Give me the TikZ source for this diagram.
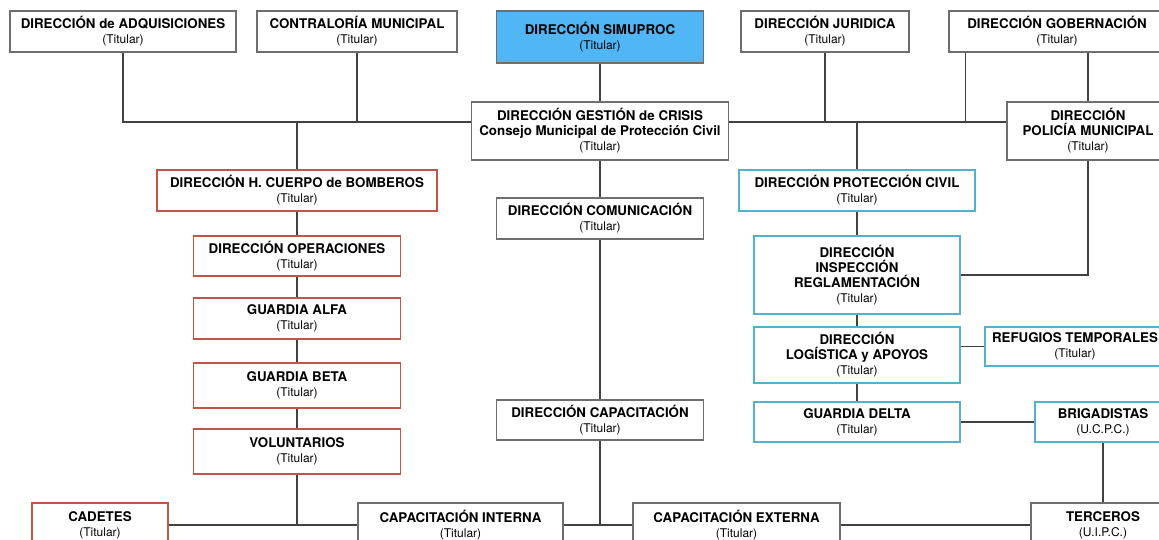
\documentclass[tikz,border=0pt]{standalone}
\usepackage{fontspec}
\setmainfont{TeX Gyre Heros}
\usepackage{xcolor}
\usetikzlibrary{calc,positioning}

\definecolor{rojo}{RGB}{192,86,72}
\definecolor{celeste}{RGB}{84,176,204}
\definecolor{azul}{RGB}{80,182,246}
\definecolor{gris}{RGB}{110,110,110}
\definecolor{trazo}{RGB}{65,65,65}

\newcommand{\cargo}[2]{#1\\{\mdseries\fontsize{9}{11.5}\selectfont #2}}

\tikzset{
	caja/.style={draw=gris, line width=1.1pt, fill=white, rectangle, align=center,
		inner sep=0pt, font=\fontsize{10}{11.25}\selectfont\bfseries},
	medida/.style 2 args={minimum width={#1*0.75pt}, minimum height={#2*0.75pt}},
	bombero/.style={caja, draw=rojo},
	civil/.style={caja, draw=celeste},
	conector/.style={draw=trazo, line width=1.1pt}
}

\begin{document}
\begin{tikzpicture}[x=0.75pt, y=-0.75pt]
		\useasboundingbox (0,0) rectangle (1159,539);
		\clip (0,0) rectangle (1159,539);
		\fill[white] (0,0) rectangle (1159,539);

		% fila superior
		\node[caja, medida={226}{41}] (adq) at (123,31.5) {\cargo{DIRECCIÓN de ADQUISICIONES}{(Titular)}};
		\node[caja, medida={200}{41}] (contra) at (357,31.5) {\cargo{CONTRALORÍA MUNICIPAL}{(Titular)}};
		\node[caja, fill=azul, medida={207}{52}] (simu) at (600,37) {\cargo{DIRECCIÓN SIMUPROC}{(Titular)}};
		\node[caja, medida={168}{41}] (jur) at (825,31.5) {\cargo{DIRECCIÓN JURIDICA}{(Titular)}};
		\node[caja, medida={216}{41}] (gob) at (1057,31.5) {\cargo{DIRECCIÓN GOBERNACIÓN}{(Titular)}};

		\node[caja, medida={257}{58}] (dgc) at (600,131) {DIRECCIÓN GESTIÓN de CRISIS\\\cargo{Consejo Municipal de Protección Civil}{(Titular)}};
		\node[caja, medida={162}{58}] (pol) at (1088,131) {DIRECCIÓN\\\cargo{POLICÍA MUNICIPAL}{(Titular)}};

		% bomberos
		\node[bombero, medida={280}{41}] (bomb) at (297,190.5) {\cargo{DIRECCIÓN H. CUERPO de BOMBEROS}{(Titular)}};
		\node[bombero, medida={207}{40}] (ope) at (297,256) {\cargo{DIRECCIÓN OPERACIONES}{(Titular)}};
		\node[bombero, medida={207}{41}] (alfa) at (297,318.5) {\cargo{GUARDIA ALFA}{(Titular)}};
		\node[bombero, medida={207}{45}] (beta) at (297,385.5) {\cargo{GUARDIA BETA}{(Titular)}};
		\node[bombero, medida={207}{45}] (vol) at (297,451.5) {\cargo{VOLUNTARIOS}{(Titular)}};
		\node[bombero, medida={136}{44}] (cadetes) at (100,525) {\cargo{CADETES}{(Titular)}};

		% centro
		\node[caja, medida={207}{41}] (com) at (600,218.5) {\cargo{DIRECCIÓN COMUNICACIÓN}{(Titular)}};
		\node[caja, medida={207}{40}] (capac) at (600,420) {\cargo{DIRECCIÓN CAPACITACIÓN}{(Titular)}};
		\node[caja, medida={205}{44}] (capint) at (460.5,525) {\cargo{CAPACITACIÓN INTERNA}{(Titular)}};
		\node[caja, medida={207}{44}] (capext) at (736.5,525) {\cargo{CAPACITACIÓN EXTERNA}{(Titular)}};
		\node[caja, medida={144}{44}] (terc) at (1103,525) {\cargo{TERCEROS}{(U.I.P.C.)}};

		% proteccion civil
		\node[civil, medida={236}{41}] (pc) at (857,190.5) {\cargo{DIRECCIÓN PROTECCIÓN CIVIL}{(Titular)}};
		\node[civil, medida={206}{78}] (insp) at (857,275) {DIRECCIÓN\\INSPECCIÓN\\\cargo{REGLAMENTACIÓN}{(Titular)}};
		\node[civil, medida={206}{56}] (log) at (857,355) {DIRECCIÓN\\\cargo{LOGÍSTICA y APOYOS}{(Titular)}};
		\node[civil, medida={180}{39}] (ref) at (1075,346.5) {\cargo{REFUGIOS TEMPORALES}{(Titular)}};
		\node[civil, medida={206}{40}] (delta) at (857,422) {\cargo{GUARDIA DELTA}{(Titular)}};
		\node[civil, medida={136}{40}] (brig) at (1103,422) {\cargo{BRIGADISTAS}{(U.C.P.C.)}};

		% lineas
		\coordinate (busA) at (0,122);
		\coordinate (busB) at (0,525);
		\coordinate (gobL) at ($(gob.south west)+(17,0)$);
		\draw[conector] (adq.south) -- (adq.south |- busA) -- (dgc.west |- busA);
		\draw[conector] (contra.south) -- (contra.south |- busA);
		\draw[conector] (simu.south) -- (dgc.north);
		\draw[conector] (dgc.east |- busA) -- (pol.west |- busA);
		\draw[conector] (jur.south) -- (jur.south |- busA);
		\draw[conector] (gobL) -- (gobL |- busA);
		\draw[conector] (gob.south -| pol.north) -- (pol.north);
		\draw[conector] (bomb.north |- busA) -- (bomb.north);
		\draw[conector] (pc.north |- busA) -- (pc.north);
		\draw[conector] (bomb.south) -- (ope.north);
		\draw[conector] (ope.south) -- (alfa.north);
		\draw[conector] (alfa.south) -- (beta.north);
		\draw[conector] (beta.south) -- (vol.north);
		\draw[conector] (vol.south) -- (vol.south |- busB);
		\draw[conector] (dgc.south) -- (com.north);
		\draw[conector] (com.south) -- (capac.north);
		\draw[conector] (capac.south) -- (capac.south |- busB);
		\draw[conector] (cadetes.east) -- (capint.west);
		\draw[conector] (capint.east) -- (capext.west);
		\draw[conector] (capext.east) -- (terc.west);
		\draw[conector] (pc.south) -- (insp.north);
		\draw[conector] (insp.south) -- (log.north);
		\draw[conector] (log.south) -- (delta.north);
		\draw[conector] (pol.south) |- (insp.east);
		\draw[conector] (log.east |- ref.west) -- (ref.west);
		\draw[conector] (delta.east) -- (brig.west);
		\draw[conector] (brig.south) -- (terc.north);
	\end{tikzpicture}
\end{document}
